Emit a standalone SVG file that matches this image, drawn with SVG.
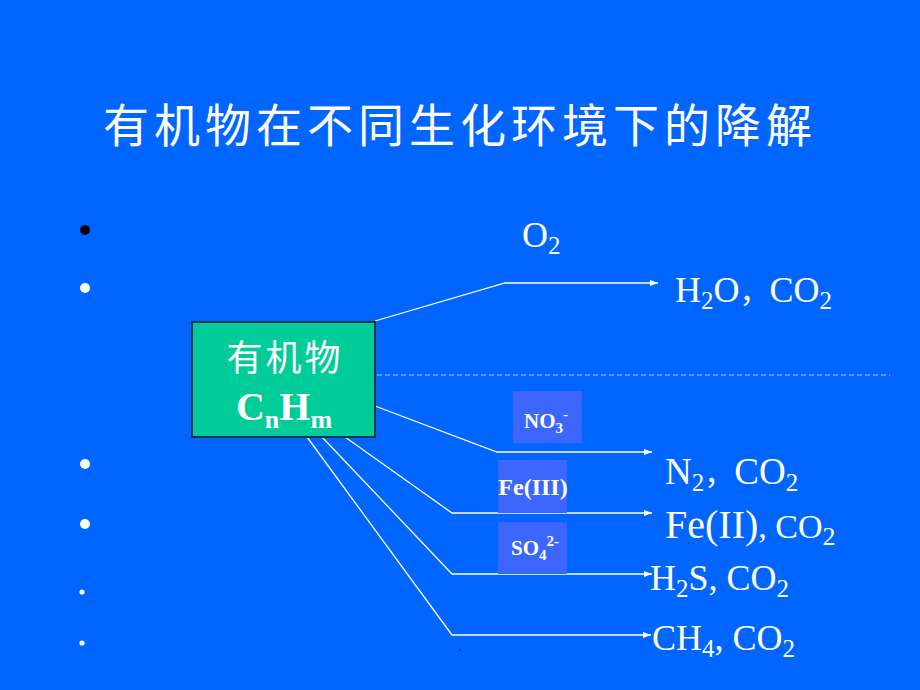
<svg xmlns="http://www.w3.org/2000/svg" width="920" height="690" viewBox="0 0 920 690">
<defs>
<marker id="arr" markerWidth="8" markerHeight="6" refX="8" refY="3" orient="auto" markerUnits="userSpaceOnUse">
<path d="M0,0 L8,3 L0,6 Z" fill="#ffffff"/>
</marker>
<style>
.cjk{font-family:"Noto Sans CJK SC","Noto Sans",sans-serif;fill:#ffffff}
.tm{font-family:"Liberation Serif","Times New Roman",serif;fill:#ffffff}
.b{font-weight:bold}
.conn{fill:none;stroke:#ffffff;stroke-width:1.3}
.lab{fill:#3d66ff}
</style>
</defs>
<rect x="0" y="0" width="920" height="690" fill="#0066ff"/>
<text id="title" class="cjk" x="103" y="142" font-size="46" letter-spacing="5">有机物在不同生化环境下的降解</text>
<g id="bullets">
<circle cx="85" cy="230" r="5" fill="#000000"/>
<circle cx="85" cy="288" r="5" fill="#ffffff"/>
<circle cx="85" cy="464" r="5" fill="#ffffff"/>
<circle cx="85" cy="524" r="5" fill="#ffffff"/>
<circle cx="82" cy="592" r="2.6" fill="#ffffff"/>
<circle cx="82" cy="643" r="2.6" fill="#ffffff"/>
<circle cx="460" cy="650" r="1.2" fill="#1a2a8a"/>
</g>
<g id="connectors">
<polyline class="conn" points="375,321 505,283 658,283" marker-end="url(#arr)"/>
<line x1="377" y1="375" x2="890" y2="375" stroke="#b0c8ff" stroke-width="1" stroke-dasharray="5,3"/>
<polyline class="conn" points="375,406 497,452 652,452" marker-end="url(#arr)"/>
<polyline class="conn" points="345,437 452,513 652,513" marker-end="url(#arr)"/>
<polyline class="conn" points="322,437 452,574 652,574" marker-end="url(#arr)"/>
<polyline class="conn" points="307,437 452,635 651,635" marker-end="url(#arr)"/>
</g>
<g id="node-organic">
<rect x="192" y="322" width="183" height="115" fill="#00cc99" stroke="#0d3355" stroke-width="2"/>
<text class="cjk" x="285" y="371" font-size="36" letter-spacing="3" text-anchor="middle">有机物</text>
<text class="tm b" x="284" y="420" font-size="40" text-anchor="middle">C<tspan font-size="26" dy="8">n</tspan><tspan dy="-8">H</tspan><tspan font-size="26" dy="8">m</tspan></text>
</g>
<g id="label-no3">
<rect class="lab" x="513" y="391" width="69" height="52"/>
<text class="tm b" x="546" y="428" font-size="21" text-anchor="middle">NO<tspan font-size="15" dy="5">3</tspan><tspan font-size="15" dy="-14">-</tspan></text>
</g>
<g id="label-fe3">
<rect class="lab" x="498" y="460" width="69" height="53"/>
<text class="tm b" x="533" y="495" font-size="24" text-anchor="middle">Fe(III)</text>
</g>
<g id="label-so4">
<rect class="lab" x="498" y="522" width="69" height="52"/>
<text class="tm b" x="535" y="555" font-size="21" text-anchor="middle">SO<tspan font-size="15" dy="5">4</tspan><tspan font-size="15" dy="-14">2-</tspan></text>
</g>
<g id="products">
<text class="tm" x="522" y="247" font-size="36">O<tspan font-size="25" dy="7">2</tspan></text>
<text class="tm" x="675" y="302" font-size="36">H<tspan font-size="25" dy="7">2</tspan><tspan dy="-7">O</tspan><tspan class="cjk" font-size="30">，</tspan><tspan>CO</tspan><tspan font-size="25" dy="7">2</tspan></text>
<text class="tm" x="665" y="484" font-size="37">N<tspan font-size="25" dy="7">2</tspan><tspan class="cjk" font-size="30" dy="-7">，</tspan><tspan>CO</tspan><tspan font-size="25" dy="7">2</tspan></text>
<text class="tm" x="665" y="538" font-size="40">Fe(II)<tspan font-size="34">, CO</tspan><tspan font-size="26" dy="7">2</tspan></text>
<text class="tm" x="650" y="590" font-size="36">H<tspan font-size="25" dy="7">2</tspan><tspan dy="-7">S, CO</tspan><tspan font-size="25" dy="7">2</tspan></text>
<text class="tm" x="652" y="650" font-size="36">CH<tspan font-size="25" dy="7">4</tspan><tspan dy="-7">, CO</tspan><tspan font-size="25" dy="7">2</tspan></text>
</g>
</svg>
